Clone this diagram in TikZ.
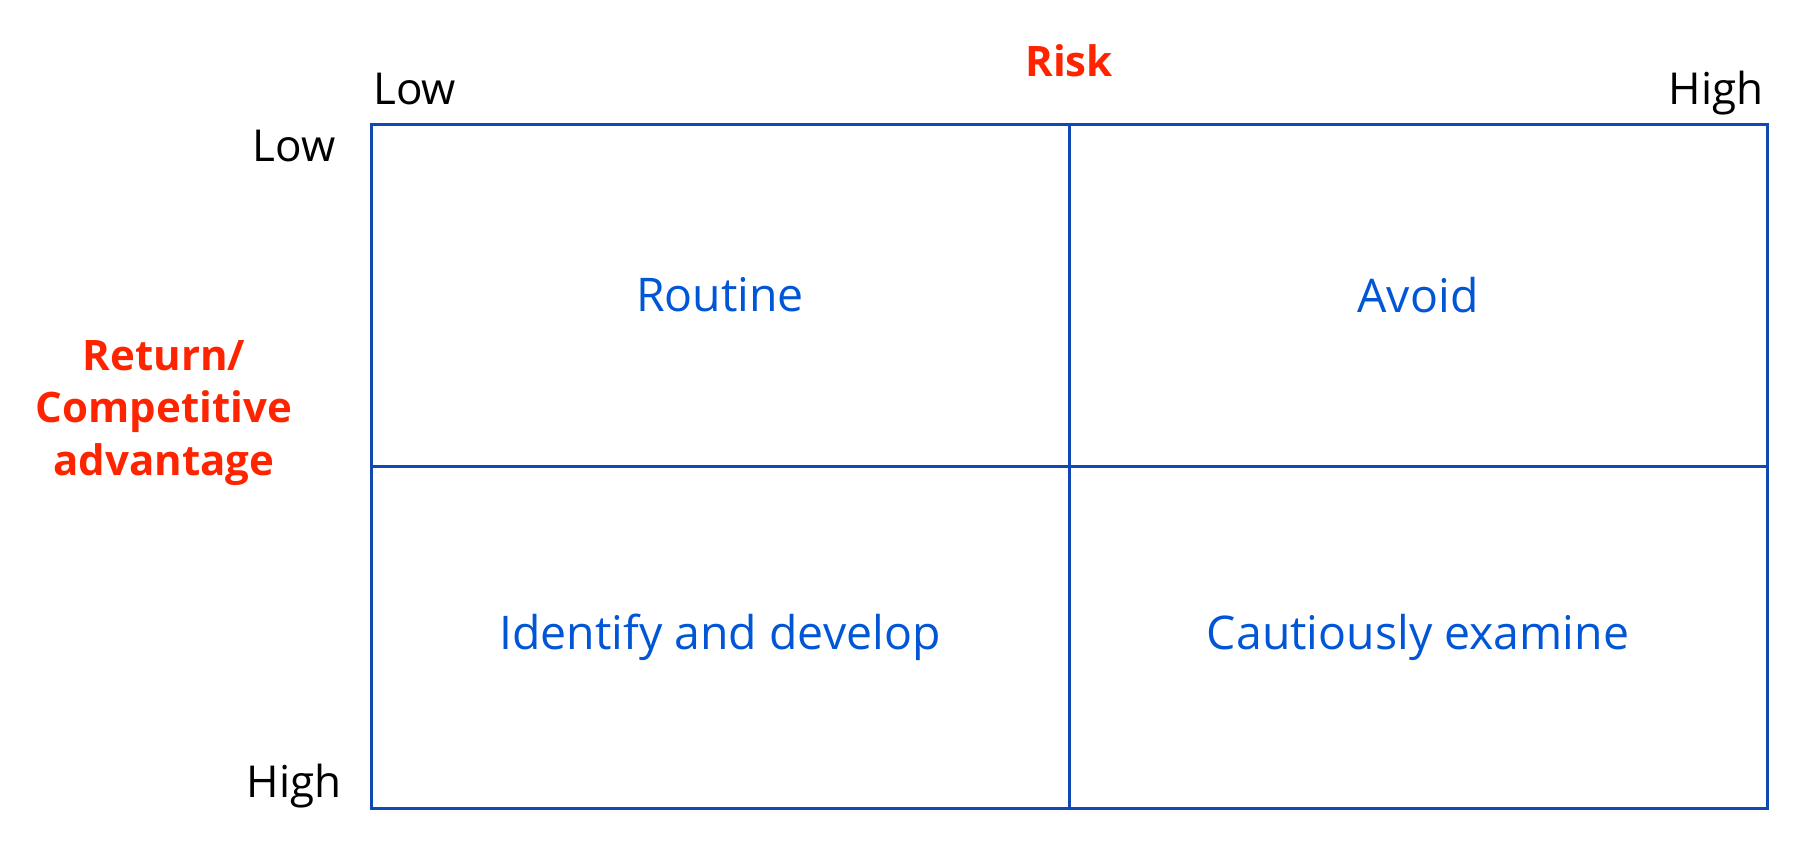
\documentclass[tikz,border=0pt]{standalone}
\usepackage{fontspec}
\setmainfont{Open Sans}
\definecolor{gridblue}{RGB}{16,72,180}
\definecolor{cellblue}{RGB}{0,86,214}
\definecolor{axisred}{RGB}{255,36,0}
\begin{document}
\begin{tikzpicture}[x=0.5pt, y=-0.5pt,
cell/.style={draw=gridblue, line width=1.5pt, minimum width=349pt, minimum height=171pt,
  inner sep=0pt, text=cellblue, font=\fontsize{23.2}{28}\selectfont},
tick/.style={inner sep=0pt, font=\fontsize{22}{26}\selectfont},
axis/.style={inner sep=0pt, text=axisred, align=center, font=\fontsize{21}{26.25}\selectfont\bfseries}]
\useasboundingbox (0,0) rectangle (1807,847);
\node[cell] (routine)  at (720,295)  {Routine};
\node[cell] (avoid)    at (1418,295) {Avoid};
\node[cell] (identify) at (720,637)  {Identify and develop};
\node[cell] (examine)  at (1418,637) {Cautiously examine};
%
\node[axis, anchor=base] (risk) at (1069,76) {Risk};
\node[axis] (return) at (164,413) {Return/\\Competitive\\advantage};
%
\node[tick, anchor=base west] (risklow)  at (373,104)  {Low};
\node[tick, anchor=base east] (riskhigh) at (1764,104) {High};
\node[tick, anchor=base] (retlow)  at (294,161) {Low};
\node[tick, anchor=base] (rethigh) at (294,797) {High};
\end{tikzpicture}
\end{document}
